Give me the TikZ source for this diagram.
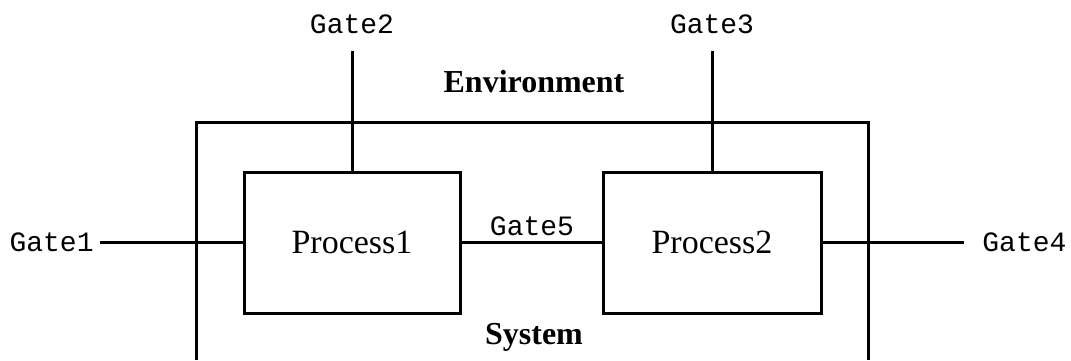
\documentclass[tikz,border=0pt]{standalone}
\usepackage{fontspec}
\setmainfont{Liberation Serif}
\setmonofont{Liberation Mono}
\begin{document}
\begin{tikzpicture}[x=0.5pt,y=-0.5pt,
  line/.style={line width=1.5pt},
  proc/.style={draw,line width=1.5pt,minimum width=108pt,minimum height=70.5pt,inner sep=0pt,font=\fontsize{17}{19}\selectfont},
  gate/.style={font=\ttfamily\fontsize{14}{16}\selectfont,inner sep=2pt},
  title/.style={font=\bfseries\fontsize{16}{18}\selectfont}]
\useasboundingbox (0,0) rectangle (1071,360);
\draw[line] (196,360) -- (196,122) -- (868,122) -- (868,360);
\node[proc,minimum width=108pt] (p1) at (352,242.5) {Process1};
\node[proc,minimum width=109pt] (p2) at (712,242.5) {Process2};
\node[title] (env) at (534,82) {Environment};
\node[title] (sys) at (534,337) {System};
\node[gate,anchor=east] (g1) at (98,242.5) {Gate1};
\node[gate] (g2) at (352,24) {Gate2};
\node[gate] (g3) at (712,24) {Gate3};
\node[gate,anchor=west] (g4) at (978,242.5) {Gate4};
\node[gate] (g5) at (532,226) {Gate5};
\coordinate (g1e) at (100,242.5);
\coordinate (g4e) at (964,242.5);
\coordinate (g2e) at (352,51);
\coordinate (g3e) at (712,51);
\draw[line] (g1e) -- (p1.west);
\draw[line] (p2.east) -- (g4e);
\draw[line] (g2e) -- (p1.north);
\draw[line] (g3e) -- (p2.north);
\draw[line] (p1.east) -- (p2.west);
\end{tikzpicture}
\end{document}
